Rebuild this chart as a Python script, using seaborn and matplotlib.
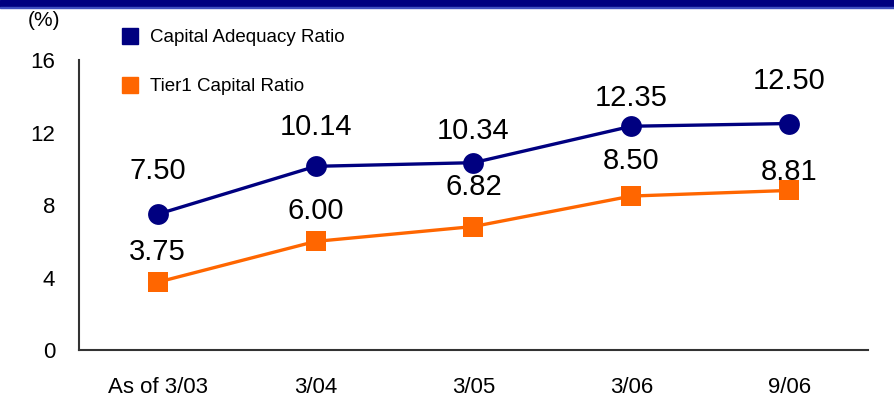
import matplotlib
matplotlib.use("Agg")
import matplotlib.pyplot as plt
from matplotlib.lines import Line2D
from matplotlib.patches import Rectangle
import seaborn as sns
import pandas as pd

periods = ["As of 3/03", "3/04", "3/05", "3/06", "9/06"]
capital_adequacy = [7.50, 10.14, 10.34, 12.35, 12.50]
tier1_ratio = [3.75, 6.00, 6.82, 8.50, 8.81]
series_names = ["Capital Adequacy Ratio", "Tier1 Capital Ratio"]
y_ticks = [0, 4, 8, 12, 16]

NAVY = "#000080"
ORANGE = "#FF6600"

# label offsets above each marker (points), tuned to the reference
cap_offsets = [21, 18.5, 12.5, 10, 20.5]
tier_offsets = [12, 12, 18.5, 15, 3.5]

sns.set_style("white")
plt.rcParams["font.family"] = ["Liberation Sans", "DejaVu Sans"]
plt.rcParams["text.color"] = "black"

df = pd.DataFrame({
    "x": list(range(len(periods))) * 2,
    "value": capital_adequacy + tier1_ratio,
    "series": [series_names[0]] * len(periods) + [series_names[1]] * len(periods),
})

fig = plt.figure(figsize=(8.95, 4.03), dpi=100)
ax = fig.add_axes([0.088, 0.131, 0.882, 0.72])

sns.lineplot(data=df[df.series == series_names[0]], x="x", y="value", ax=ax,
             color=NAVY, linewidth=2.4, marker="o", markersize=15,
             markeredgewidth=0, legend=False)
sns.lineplot(data=df[df.series == series_names[1]], x="x", y="value", ax=ax,
             color=ORANGE, linewidth=2.4, marker="s", markersize=14,
             markeredgewidth=0, legend=False)

for i, v in enumerate(capital_adequacy):
    ax.annotate(f"{v:.2f}", (i, v), xytext=(0, cap_offsets[i]), textcoords="offset points",
                ha="center", va="bottom", fontsize=21, color="black")
for i, v in enumerate(tier1_ratio):
    ax.annotate(f"{v:.2f}", (i, v), xytext=(0, tier_offsets[i]), textcoords="offset points",
                ha="center", va="bottom", fontsize=21, color="black")

ax.set_xlim(-0.5, len(periods) - 0.5)
ax.set_ylim(0, 16)
ax.set_yticks(y_ticks)
ax.set_yticklabels([str(t) for t in y_ticks], fontsize=16)
ax.set_xticks(range(len(periods)))
ax.set_xticklabels(periods, fontsize=16)
ax.tick_params(axis="both", length=0, colors="black")
ax.tick_params(axis="y", pad=17)
ax.tick_params(axis="x", pad=19)
ax.set_xlabel("")
ax.set_ylabel("")
sns.despine(ax=ax)
for side in ["left", "bottom"]:
    ax.spines[side].set_color("#333333")
    ax.spines[side].set_linewidth(1.5)

fig.text(0.031, 0.95, "(%)", fontsize=15, ha="left", va="center")

handles = [Line2D([], [], linestyle="none", marker="s", markersize=12, color=NAVY),
           Line2D([], [], linestyle="none", marker="s", markersize=12, color=ORANGE)]
fig.legend(handles, series_names, loc="upper left", bbox_to_anchor=(0.115, 0.97),
           frameon=False, fontsize=13.5, labelspacing=1.7, handletextpad=0.5,
           handlelength=1.1)

# header band at the top
fig.patches.append(Rectangle((0, 0.983), 1, 0.017, transform=fig.transFigure,
                             color=NAVY, zorder=5))
fig.patches.append(Rectangle((0, 0.979), 1, 0.004, transform=fig.transFigure,
                             color="#3f4fc0", zorder=5))

fig.savefig("out.png", dpi=100)
